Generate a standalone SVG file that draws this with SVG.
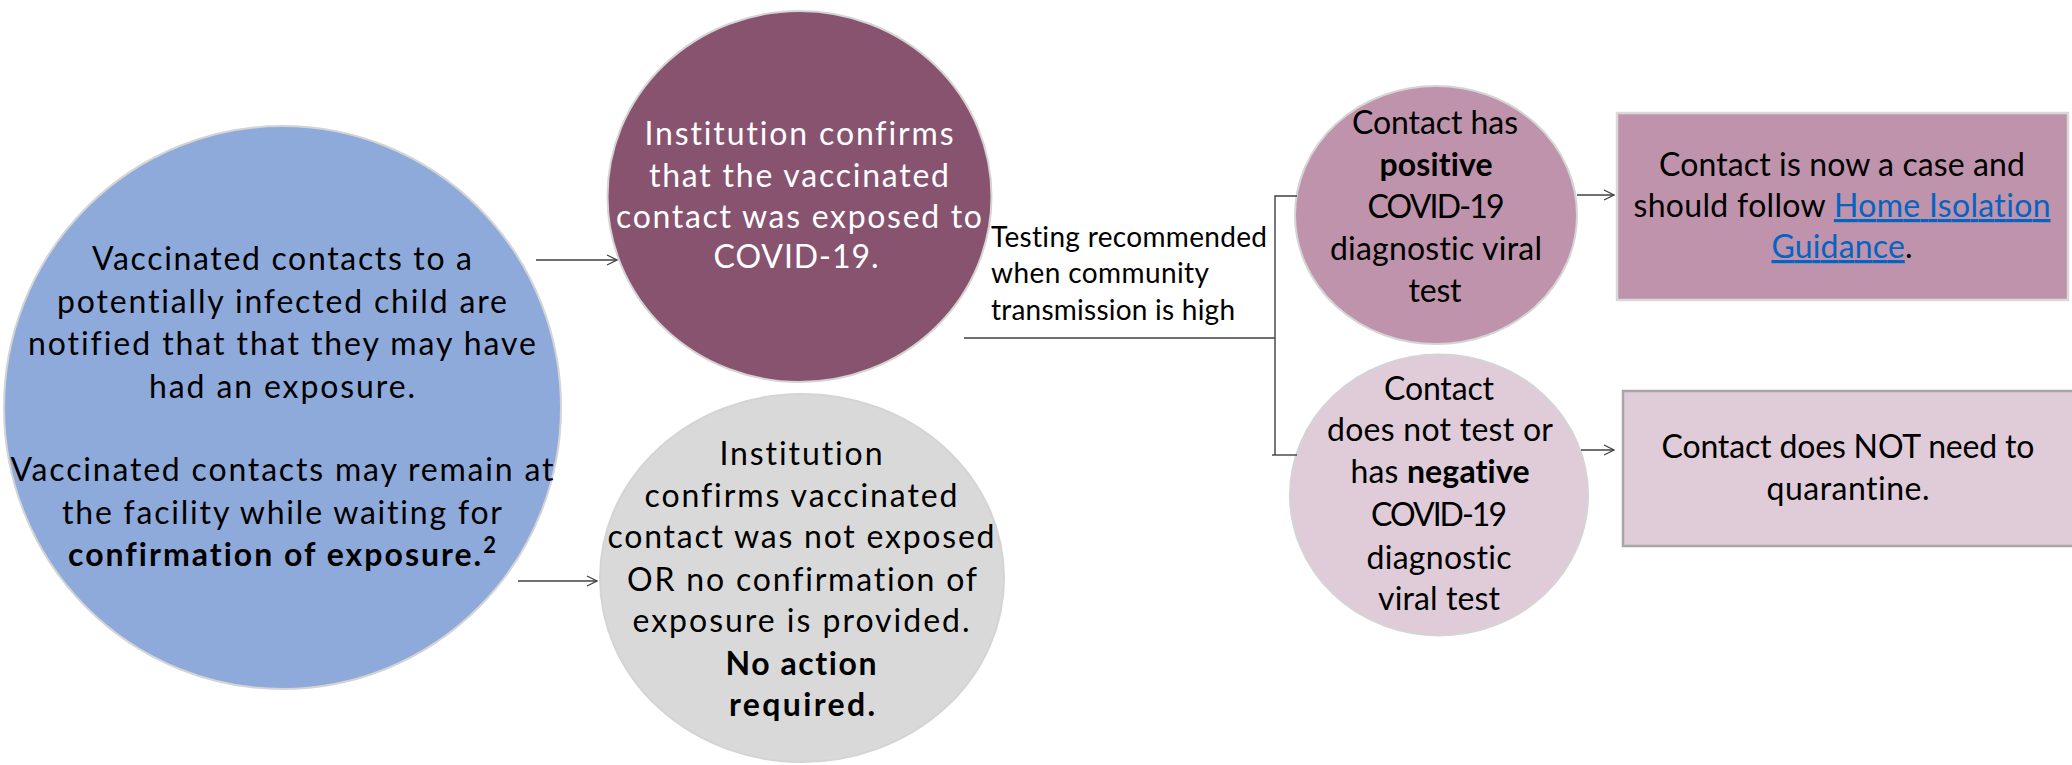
<svg xmlns="http://www.w3.org/2000/svg" width="2072" height="765" viewBox="0 0 2072 765">
<defs>
<style>
.t { font-family: Lato, "Open Sans", "Liberation Sans", sans-serif; font-size: 32px; text-anchor: middle; fill: #000; font-variant-ligatures: none; font-feature-settings: "liga" 0, "dlig" 0; }
.w { fill: #ffffff; }
.b { font-weight: bold; }
.lbl { font-size: 28px; text-anchor: start; }
.lk { fill: #0563C1; text-decoration: underline; }
.ln { fill: none; stroke: #404040; stroke-width: 1.4; }
.nd { stroke: #D4D4D4; stroke-width: 2; }
</style>
<marker id="arr" viewBox="0 0 12 12" refX="11" refY="6" markerWidth="12" markerHeight="12" markerUnits="userSpaceOnUse" orient="auto">
<path d="M1,1 L11,6 L1,11" fill="none" stroke="#404040" stroke-width="1.3"/>
</marker>
</defs>
<rect width="2072" height="765" fill="#ffffff"/>

<g id="node-notified">
<ellipse class="nd" cx="282.5" cy="407.5" rx="278.5" ry="281.5" fill="#8EAADB"/>
<text class="t" x="282" y="270" textLength="380">Vaccinated contacts to a</text>
<text class="t" x="282" y="313" textLength="450">potentially infected child are</text>
<text class="t" x="282" y="355" textLength="508">notified that that they may have</text>
<text class="t" x="282" y="398" textLength="266">had an exposure.</text>
<text class="t" x="282" y="481" textLength="543">Vaccinated contacts may remain at</text>
<text class="t" x="282" y="524" textLength="440">the facility while waiting for</text>
<text class="t b" x="282" y="566" textLength="428">confirmation of exposure.<tspan dy="-13" font-size="22">2</tspan></text>
</g>

<g id="node-exposed">
<ellipse class="nd" cx="799.5" cy="196.5" rx="192" ry="185.5" fill="#87536F"/>
<text class="t w" x="799" y="145" textLength="309">Institution confirms</text>
<text class="t w" x="799" y="187" textLength="300">that the vaccinated</text>
<text class="t w" x="799" y="228" textLength="366">contact was exposed to</text>
<text class="t w" x="796" y="268" textLength="165">COVID-19.</text>
</g>

<g id="node-not-exposed">
<ellipse class="nd" cx="802" cy="578" rx="202" ry="184" fill="#D9D9D9"/>
<text class="t" x="801" y="465" textLength="163">Institution</text>
<text class="t" x="801" y="507" textLength="313">confirms vaccinated</text>
<text class="t" x="801" y="548" textLength="387">contact was not exposed</text>
<text class="t" x="802" y="591" textLength="350">OR no confirmation of</text>
<text class="t" x="801" y="632" textLength="337">exposure is provided.</text>
<text class="t b" x="801" y="675" textLength="151">No action</text>
<text class="t b" x="802" y="716" textLength="146">required.</text>
</g>

<g id="node-positive">
<ellipse class="nd" cx="1436" cy="215" rx="141" ry="129" fill="#BE93AB"/>
<text class="t" x="1435" y="134" textLength="166">Contact has</text>
<text class="t b" x="1436" y="176" textLength="113">positive</text>
<text class="t" x="1436" y="218" textLength="137">COVID-19</text>
<text class="t" x="1436" y="260" textLength="212">diagnostic viral</text>
<text class="t" x="1435" y="302" textLength="53">test</text>
</g>

<g id="node-negative">
<ellipse class="nd" cx="1439" cy="495" rx="149" ry="140.5" fill="#DFCCD8"/>
<text class="t" x="1439" y="400" textLength="110">Contact</text>
<text class="t" x="1440" y="441" textLength="226">does not test or</text>
<text class="t" x="1440" y="483" textLength="179">has <tspan class="b">negative</tspan></text>
<text class="t" x="1439" y="526" textLength="136">COVID-19</text>
<text class="t" x="1439" y="569" textLength="145">diagnostic</text>
<text class="t" x="1439" y="610" textLength="122">viral test</text>
</g>

<g id="node-case">
<rect x="1617" y="113" width="451" height="187" fill="#BE93AB" stroke="#D9D9D9" stroke-width="2.5"/>
<text class="t" x="1842" y="176" textLength="366">Contact is now a case and</text>
<text class="t" x="1842" y="217" textLength="417">should follow <tspan class="lk">Home Isolation</tspan></text>
<text class="t" x="1842" y="258" textLength="141"><tspan class="lk">Guidance</tspan>.</text>
</g>

<g id="node-no-quarantine">
<rect x="1623" y="391" width="460" height="155" fill="#DFCCD8" stroke="#A6A6A6" stroke-width="2.5"/>
<text class="t" x="1848" y="458" textLength="373">Contact does NOT need to</text>
<text class="t" x="1848" y="500" textLength="163">quarantine.</text>
</g>

<g id="connectors">
<line class="ln" x1="536" y1="260" x2="617" y2="260" marker-end="url(#arr)"/>
<line class="ln" x1="518" y1="581" x2="597" y2="581" marker-end="url(#arr)"/>
<line class="ln" x1="964" y1="338" x2="1275" y2="338"/>
<path class="ln" d="M1297,196 H1275 V455"/>
<line class="ln" x1="1272" y1="455" x2="1297" y2="455"/>
<line class="ln" x1="1577" y1="195" x2="1614" y2="195" marker-end="url(#arr)"/>
<line class="ln" x1="1581" y1="450" x2="1614" y2="450" marker-end="url(#arr)"/>
<text class="t lbl" x="991" y="247" textLength="276">Testing recommended</text>
<text class="t lbl" x="991" y="283" textLength="218">when community</text>
<text class="t lbl" x="991" y="320" textLength="244">transmission is high</text>
</g>
</svg>
